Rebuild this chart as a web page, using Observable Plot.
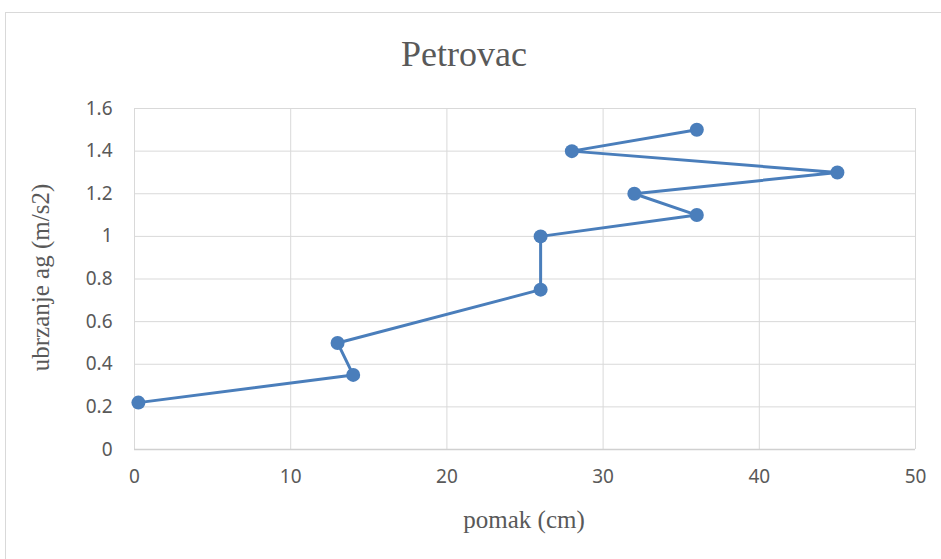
<!DOCTYPE html>
<html><head><meta charset="utf-8">
<script src="https://cdn.jsdelivr.net/npm/d3@7"></script>
<script src="https://cdn.jsdelivr.net/npm/@observablehq/plot@0.6"></script>
<style>
html,body{margin:0;padding:0;background:#fff;overflow:hidden}
#wrap{position:relative;width:941px;height:559px}
#frame{position:absolute;left:5px;top:12px;width:960px;height:600px;border:1px solid #d9d9d9;box-sizing:border-box}
#chart{position:absolute;left:0;top:0}
</style>
</head><body>
<div id="wrap"><div id="frame"></div><div id="chart"></div></div>
<script>
const title = "Petrovac";
const xLabel = "pomak (cm)";
const yLabel = "ubrzanje ag (m/s2)";
const pomak = [0.25, 14, 13, 26, 26, 36, 32, 45, 28, 36];
const ubrzanje = [0.22, 0.35, 0.5, 0.75, 1.0, 1.1, 1.2, 1.3, 1.4, 1.5];
const xTicks = [0, 10, 20, 30, 40, 50];
const yTicks = [0, 0.2, 0.4, 0.6, 0.8, 1, 1.2, 1.4, 1.6];

const data = pomak.map((x, i) => ({x, y: ubrzanje[i]}));
const blue = "#4a7ebb";
const sans = "'Noto Sans', 'Open Sans', sans-serif";
const serif = "'Liberation Serif', 'DejaVu Serif', serif";

const plot = Plot.plot({
  width: 941, height: 559,
  marginLeft: 134, marginRight: 26, marginTop: 108, marginBottom: 110,
  style: {background: "transparent", fontFamily: sans, fontSize: "19px", color: "#595959", overflow: "visible"},
  x: {domain: [0, 50]},
  y: {domain: [0, 1.6]},
  marks: [
    Plot.gridX(xTicks, {stroke: "#d9d9d9", strokeOpacity: 1, strokeWidth: 1}),
    Plot.gridY(yTicks, {stroke: "#d9d9d9", strokeOpacity: 1, strokeWidth: 1}),
    Plot.ruleY([0], {stroke: "#d0d0d0", strokeWidth: 1.5}),
    Plot.axisX(xTicks, {tickSize: 0, tickPadding: 20, label: null, fill: "#595959", fontSize: 19, tickFormat: d => String(d)}),
    Plot.axisY(yTicks, {tickSize: 0, tickPadding: 22, label: null, fill: "#595959", fontSize: 19, tickFormat: d => String(d)}),
    Plot.line(data, {x: "x", y: "y", stroke: blue, strokeWidth: 3, curve: "linear"}),
    Plot.dot(data, {x: "x", y: "y", fill: blue, r: 7}),
    Plot.text([title], {frameAnchor: "top", dx: -61, dy: -68, fontFamily: serif, fontSize: 36, fill: "#595959", text: d => d}),
    Plot.text([xLabel], {frameAnchor: "bottom", dx: -1, dy: 78, fontFamily: serif, fontSize: 25, fill: "#595959", text: d => d}),
    Plot.text([yLabel], {frameAnchor: "middle", dx: -484.5, dy: -1.5, rotate: -90, fontFamily: serif, fontSize: 25, fill: "#595959", text: d => d})
  ]
});
document.getElementById("chart").appendChild(plot);
</script>
</body></html>
